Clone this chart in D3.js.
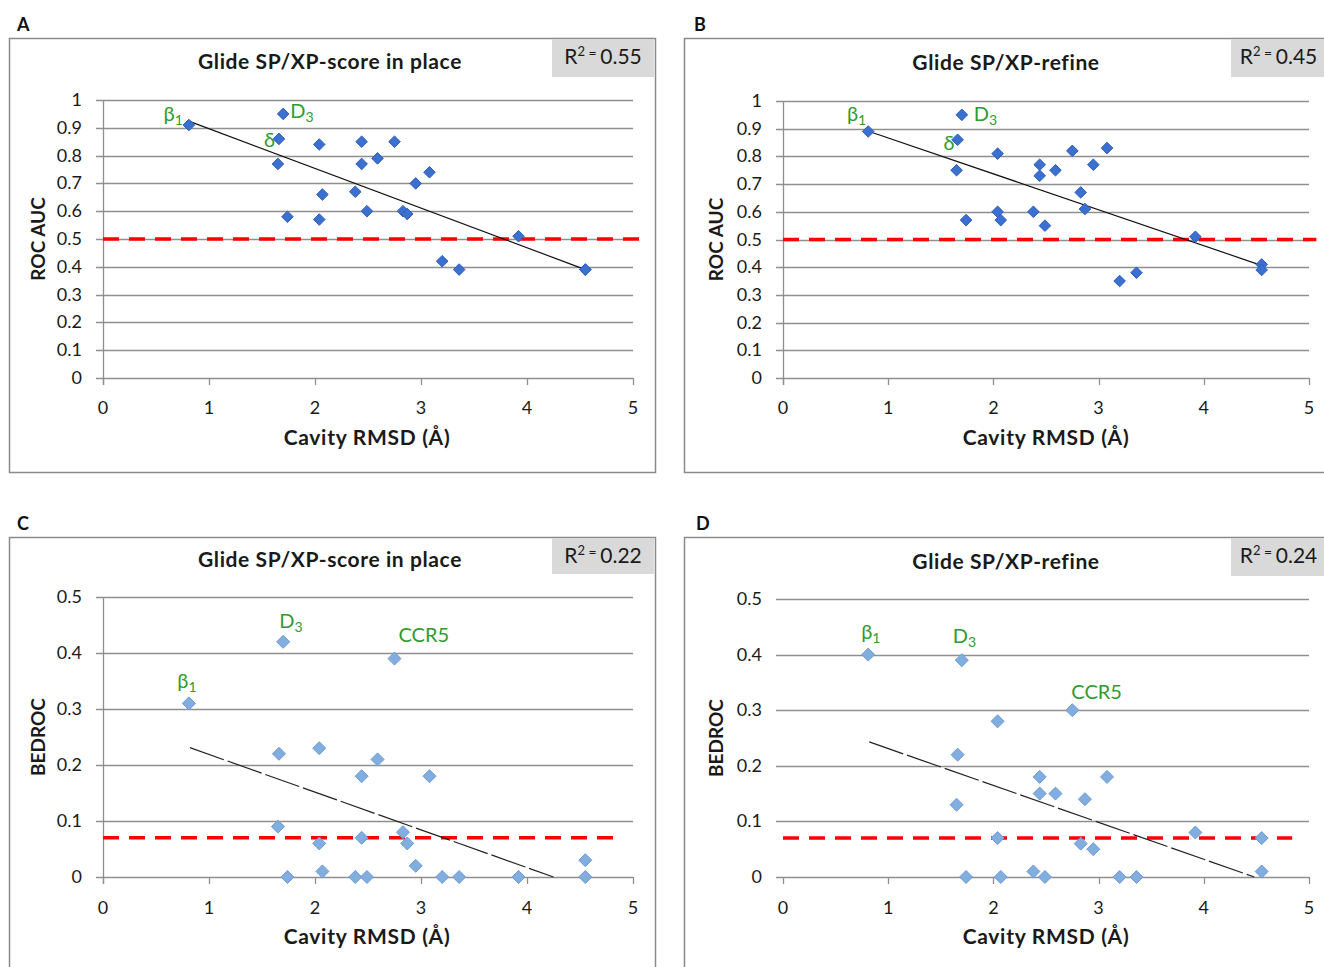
<!DOCTYPE html>
<html><head><meta charset="utf-8">
<script src="https://cdn.jsdelivr.net/npm/d3@7"></script>
<style>
body{margin:0;background:#fff}
svg{display:block;font-family:Lato,"Open Sans",sans-serif}
</style>
</head><body>
<svg id="chart" width="1324" height="967"></svg>
<script>
// ---------------- DATA ----------------
const cavityRMSD = [0.81,1.65,1.66,1.70,1.74,2.04,2.04,2.07,2.38,2.44,2.44,2.49,2.59,2.75,2.83,2.87,2.95,3.08,3.20,3.36,3.92,4.55,4.55];
const rocAucScoreInPlace = [0.91,0.77,0.86,0.95,0.58,0.84,0.57,0.66,0.67,0.85,0.77,0.60,0.79,0.85,0.60,0.59,0.70,0.74,0.42,0.39,0.51,0.39,0.39];
const rocAucRefine       = [0.89,0.75,0.86,0.95,0.57,0.81,0.60,0.57,0.60,0.77,0.73,0.55,0.75,0.82,0.67,0.61,0.77,0.83,0.35,0.38,0.51,0.41,0.39];
const bedrocScoreInPlace = [0.31,0.09,0.22,0.42,0.00,0.23,0.06,0.01,0.00,0.18,0.07,0.00,0.21,0.39,0.08,0.06,0.02,0.18,0.00,0.00,0.00,0.03,0.00];
const bedrocRefine       = [0.40,0.13,0.22,0.39,0.00,0.28,0.07,0.00,0.01,0.18,0.15,0.00,0.15,0.30,0.06,0.14,0.05,0.18,0.00,0.00,0.08,0.07,0.01];

const xTicks = [0,1,2,3,4,5];
const rocTicks = [0,0.1,0.2,0.3,0.4,0.5,0.6,0.7,0.8,0.9,1];
const bedrocTicks = [0,0.1,0.2,0.3,0.4,0.5];

const trendA = [[0.81,0.924],[4.55,0.39]];
const trendB = [[0.82,0.89],[4.56,0.405]];
const trendC = [[0.82,0.231],[4.25,0]];
const trendD = [[0.82,0.243],[4.48,0]];

const rocThreshold = [[0,0.5],[5.07,0.5]];
const bedrocThreshold = [[0,0.07],[4.84,0.07]];

const panelLetters = ["A","B","C","D"];
const panelTitles = ["Glide SP/XP-score in place","Glide SP/XP-refine","Glide SP/XP-score in place","Glide SP/XP-refine"];
const r2Values = ["0.55","0.45","0.22","0.24"];
const yAxisTitles = ["ROC AUC","ROC AUC","BEDROC","BEDROC"];
const xAxisTitle = "Cavity RMSD (Å)";

const labelsA = [{i:0,t:"β",s:"1"},{i:3,t:"D",s:"3"},{i:2,t:"δ",s:""}];
const labelsB = [{i:0,t:"β",s:"1"},{i:3,t:"D",s:"3"},{i:2,t:"δ",s:""}];
const labelsC = [{i:0,t:"β",s:"1"},{i:3,t:"D",s:"3"},{i:13,t:"CCR5",s:""}];
const labelsD = [{i:0,t:"β",s:"1"},{i:3,t:"D",s:"3"},{i:13,t:"CCR5",s:""}];

// ---------------- LAYOUT / STYLE ----------------
const svg = d3.select("#chart");
svg.append("rect").attr("width",1324).attr("height",967).attr("fill","#fff");

const panels = [
  {letter:panelLetters[0], title:panelTitles[0], r2:r2Values[0], yTitle:yAxisTitles[0], ys:rocAucScoreInPlace, yTicks:rocTicks, yMax:1,
   trend:trendA, ref:rocThreshold, labels:labelsA, frame:[9,38,646,434], r2box:[552,38,102,39],
   px:[103,633], py:[378,100], solid:true, yAxisLine:true, cx:330, xtx:367,
   lab:[{a:"end",dx:-6,dy:-4},{a:"start",dx:7,dy:4},{a:"end",dx:-4,dy:8}], letterPos:[17,31], titleY:69, xTitleY:445, tickY:414, yTitleX:45},
  {letter:panelLetters[1], title:panelTitles[1], r2:r2Values[1], yTitle:yAxisTitles[1], ys:rocAucRefine, yTicks:rocTicks, yMax:1,
   trend:trendB, ref:rocThreshold, labels:labelsB, frame:[684,38,660,434], r2box:[1231,38,95,39],
   px:[783,1309], py:[378,101], solid:true, yAxisLine:true, cx:1006, xtx:1046,
   lab:[{a:"end",dx:-2,dy:-10},{a:"start",dx:12,dy:6},{a:"end",dx:-3,dy:10}], letterPos:[694,31], titleY:70, xTitleY:445, tickY:414, yTitleX:723},
  {letter:panelLetters[2], title:panelTitles[2], r2:r2Values[2], yTitle:yAxisTitles[2], ys:bedrocScoreInPlace, yTicks:bedrocTicks, yMax:0.5,
   trend:trendC, ref:bedrocThreshold, labels:labelsC, frame:[9,537,646,450], r2box:[552,537,102,37],
   px:[103,633], py:[877,597], solid:false, yAxisLine:true, cx:330, xtx:367,
   lab:[{a:"middle",dx:-2,dy:-15},{a:"start",dx:-4,dy:-14},{a:"start",dx:4,dy:-17}], letterPos:[17,530], titleY:567, xTitleY:944, tickY:914, yTitleX:45},
  {letter:panelLetters[3], title:panelTitles[3], r2:r2Values[3], yTitle:yAxisTitles[3], ys:bedrocRefine, yTicks:bedrocTicks, yMax:0.5,
   trend:trendD, ref:bedrocThreshold, labels:labelsD, frame:[684,537,660,450], r2box:[1231,537,95,39],
   px:[783,1309], py:[877,599], solid:false, yAxisLine:false, cx:1006, xtx:1046,
   lab:[{a:"start",dx:-7,dy:-16},{a:"start",dx:-9,dy:-17},{a:"start",dx:-1,dy:-11}], letterPos:[696,530], titleY:569, xTitleY:944, tickY:914, yTitleX:723}
];

const gridColor = "#8f8f8f";
const textColor = "#1a1a1a";
const labelGreen = "#2f9b2f";

function diamond(r){ return `M0,${-r}L${r},0L0,${r}L${-r},0Z`; }

panels.forEach(p => {
  const g = svg.append("g");
  // frame
  g.append("rect").attr("x",p.frame[0]+0.5).attr("y",p.frame[1]+0.5).attr("width",p.frame[2]).attr("height",p.frame[3])
    .attr("fill","#fff").attr("stroke","#8a8a8a").attr("stroke-width",1.5);
  // letter
  g.append("text").attr("x",p.letterPos[0]).attr("y",p.letterPos[1]).text(p.letter)
    .attr("font-weight","bold").attr("font-size",18).attr("fill","#111");
  // R2 box
  g.append("rect").attr("x",p.r2box[0]).attr("y",p.r2box[1]+1).attr("width",p.r2box[2]).attr("height",p.r2box[3]-1).attr("fill","#d9d9d9");
  const r2t = g.append("text").attr("x",p.r2box[0]+p.r2box[2]/2).attr("y",p.r2box[1]+26)
    .attr("text-anchor","middle").attr("font-size",21).attr("fill",textColor);
  r2t.append("tspan").text("R");
  r2t.append("tspan").text("2").attr("font-size",13).attr("dy",-8);
  r2t.append("tspan").text(" = ").attr("font-size",14).attr("dy",2);
  r2t.append("tspan").text(p.r2).attr("dy",6);
  // title
  g.append("text").attr("x",p.cx).attr("y",p.titleY)
    .attr("text-anchor","middle").attr("font-weight","bold").attr("font-size",21).attr("letter-spacing",0.6)
    .attr("fill",textColor).text(p.title);

  const x = d3.scaleLinear().domain([0,5]).range(p.px);
  const y = d3.scaleLinear().domain([0,p.yMax]).range(p.py);

  // gridlines
  g.append("g").selectAll("line").data(p.yTicks).join("line")
    .attr("x1",x(0)-7).attr("x2",x(5)).attr("y1",d=>Math.round(y(d))+0.5).attr("y2",d=>Math.round(y(d))+0.5)
    .attr("stroke",gridColor).attr("stroke-width",1.3);
  // y axis line
  if (p.yAxisLine) g.append("line").attr("x1",Math.round(x(0))+0.5).attr("x2",Math.round(x(0))+0.5)
    .attr("y1",y(p.yMax)).attr("y2",y(0)+7).attr("stroke",gridColor).attr("stroke-width",1.3);
  // x ticks
  g.append("g").selectAll("line").data(xTicks).join("line")
    .attr("x1",d=>Math.round(x(d))+0.5).attr("x2",d=>Math.round(x(d))+0.5).attr("y1",y(0)).attr("y2",y(0)+7)
    .attr("stroke",gridColor).attr("stroke-width",1.3);
  // tick labels
  g.append("g").selectAll("text").data(p.yTicks).join("text")
    .attr("x",x(0)-21).attr("y",d=>y(d)+6).attr("text-anchor","end").attr("font-size",18).attr("fill",textColor)
    .text(d=>d3.format("")(+d.toFixed(1)));
  g.append("g").selectAll("text").data(xTicks).join("text")
    .attr("x",d=>x(d)).attr("y",p.tickY).attr("text-anchor","middle").attr("font-size",18).attr("fill",textColor)
    .text(d=>d);
  // axis titles
  g.append("text").attr("transform",`translate(${p.yTitleX},${(y(0)+y(p.yMax))/2}) rotate(-90)`)
    .attr("text-anchor","middle").attr("font-weight","bold").attr("font-size",19).attr("fill",textColor).text(p.yTitle);
  g.append("text").attr("x",p.xtx).attr("y",p.xTitleY)
    .attr("text-anchor","middle").attr("font-weight","bold").attr("font-size",21).attr("letter-spacing",0.7)
    .attr("fill",textColor).text(xAxisTitle);

  // red threshold line
  const line = d3.line().x(d=>x(d[0])).y(d=>y(d[1]));
  g.append("path").attr("d",line(p.ref)).attr("stroke","#ff0000").attr("stroke-width",3.5)
    .attr("stroke-dasharray","16,10").attr("fill","none");

  // trend line
  g.append("path").attr("d",line(p.trend)).attr("stroke", p.solid ? "#111" : "#222").attr("stroke-width",1.2)
    .attr("stroke-dasharray", p.solid ? null : "36,4").attr("fill","none");

  // points
  const pts = cavityRMSD.map((v,i)=>[v,p.ys[i]]);
  g.append("g").selectAll("path").data(pts).join("path")
    .attr("transform",d=>`translate(${x(d[0])},${y(d[1])})`)
    .attr("d", p.solid ? diamond(5.8) : diamond(6.5))
    .attr("fill", p.solid ? "#3b6fd0" : "#82addf")
    .attr("stroke", p.solid ? "#2f5fb8" : "#6d9bd6").attr("stroke-width",1);

  // labels
  p.labels.forEach((l,k) => {
    const o = p.lab[k];
    const t = g.append("text").attr("x",x(cavityRMSD[l.i])+o.dx).attr("y",y(p.ys[l.i])+o.dy)
      .attr("text-anchor",o.a).attr("font-size",20).attr("fill",labelGreen);
    t.append("tspan").text(l.t);
    if (l.s) t.append("tspan").text(l.s).attr("font-size",14).attr("dy",4);
  });
});
</script>
</body></html>
